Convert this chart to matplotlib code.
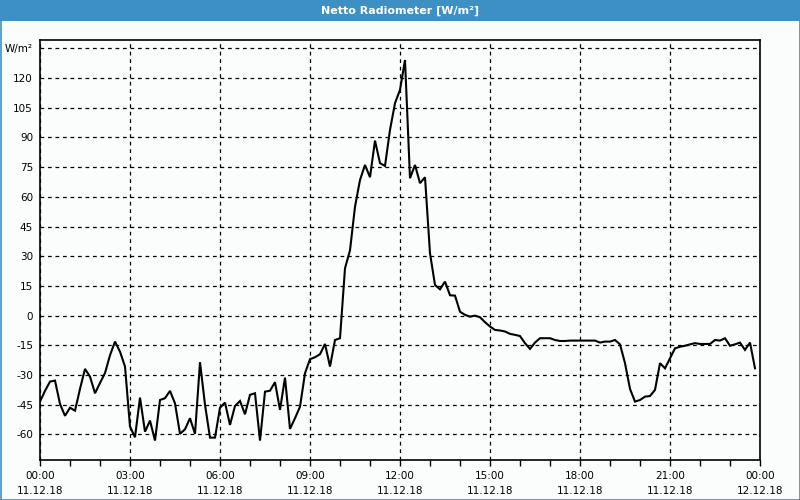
import matplotlib
matplotlib.use("Agg")
import matplotlib.pyplot as plt
import matplotlib.patches as mpt
import numpy as np

# ------------------------------------------------------------------ DATA
# net radiation, one reading every 10 minutes, 11.12.18 00:00 .. 23:50
net_radiation = [
    -43.4, -38.0, -33.3, -32.8, -44.6, -50.6,
    -46.5, -48.0, -37.0, -26.9, -30.8, -39.2,
    -34.0, -29.0, -20.0, -13.1, -18.2, -25.7,
    -56.0, -61.4, -41.4, -58.6, -53.0, -63.1,
    -42.6, -41.7, -38.0, -44.3, -59.7, -57.4,
    -51.8, -59.7, -23.5, -45.0, -61.6, -61.6,
    -46.5, -43.9, -55.2, -45.6, -43.1, -49.8,
    -40.0, -39.2, -63.1, -38.4, -37.9, -33.6,
    -47.6, -31.3, -57.2, -51.8, -46.0, -29.1,
    -22.0, -21.0, -19.5, -14.3, -25.7, -12.3,
    -11.4, 23.9, 33.0, 55.0, 68.5, 76.1,
    69.9, 88.4, 77.0, 75.6, 93.8, 107.3,
    114.0, 129.1, 69.4, 76.1, 66.9, 69.9,
    31.5, 15.5, 13.3, 17.2, 10.3, 10.1,
    2.0, 0.4, -0.5, 0.0, -0.8, -3.3,
    -5.5, -7.2, -7.5, -8.0, -9.2, -9.7,
    -10.3, -13.9, -16.8, -13.6, -11.4, -11.4,
    -11.4, -12.3, -12.8, -12.8, -12.6, -12.6,
    -12.6, -12.6, -12.6, -12.6, -13.6, -13.1,
    -13.1, -12.3, -14.5, -24.0, -37.0, -43.4,
    -42.6, -40.9, -40.6, -37.5, -24.0, -26.6,
    -21.5, -16.5, -15.7, -15.2, -14.5, -13.9,
    -14.3, -14.3, -14.3, -12.3, -12.6, -11.4,
    -15.2, -14.5, -13.6, -17.3, -13.6, -26.6,
]
step_minutes = 10
hours = np.arange(len(net_radiation)) * step_minutes / 60.0

x_ticks = [0, 3, 6, 9, 12, 15, 18, 21, 24]
x_labels = ["00:00\n11.12.18", "03:00\n11.12.18", "06:00\n11.12.18",
            "09:00\n11.12.18", "12:00\n11.12.18", "15:00\n11.12.18",
            "18:00\n11.12.18", "21:00\n11.12.18", "00:00\n12.12.18"]
y_ticks = [-60, -45, -30, -15, 0, 15, 30, 45, 60, 75, 90, 105, 120, 135]
y_labels = [str(v) for v in y_ticks[:-1]] + ["W/m\u00b2"]
title = "Netto Radiometer [W/m\u00b2]"

# ---------------------------------------------------------------- STYLE
blue = "#3d90c4"
bg = "#fafdfb"
fnt = 7.5

fig = plt.figure(figsize=(8, 5), dpi=100, facecolor=bg)

# title bar and frame
fig.patches.append(mpt.Rectangle((0, 1 - 21 / 500), 1, 21 / 500, transform=fig.transFigure,
                                 facecolor=blue, edgecolor="none", zorder=0))
fig.patches.append(mpt.Rectangle((0.5 / 800, 0.5 / 500), 799 / 800, 499 / 500, transform=fig.transFigure,
                                 facecolor="none", edgecolor=blue, lw=1.2, zorder=5))
fig.text(0.5, 1 - 10.5 / 500, title, color="white", fontsize=8, fontweight="bold",
         ha="center", va="center")

ax = fig.add_axes([40 / 800, 40 / 500, 720 / 800, 420 / 500])
ax.set_facecolor(bg)
ax.plot(hours, net_radiation, color="black", lw=1.5, solid_joinstyle="miter")

ax.set_xlim(0, 24)
ax.set_ylim(-72.9, 139.2)
ax.set_xticks(x_ticks)
ax.set_xticklabels(x_labels, fontsize=fnt, linespacing=1.55)
ax.set_xticks(np.arange(0, 25, 1), minor=True)
ax.set_yticks(y_ticks)
ax.set_yticklabels(y_labels, fontsize=fnt)

ax.tick_params(axis="x", which="both", length=4, width=1, color="black", pad=4)
ax.tick_params(axis="y", length=0, pad=5)
ax.grid(True, which="major", color="black", linestyle=(0, (3, 3)), lw=0.9)
for s in ax.spines.values():
    s.set_linewidth(1.2)
    s.set_color("black")

fig.savefig("out.png", dpi=100, facecolor=bg)
